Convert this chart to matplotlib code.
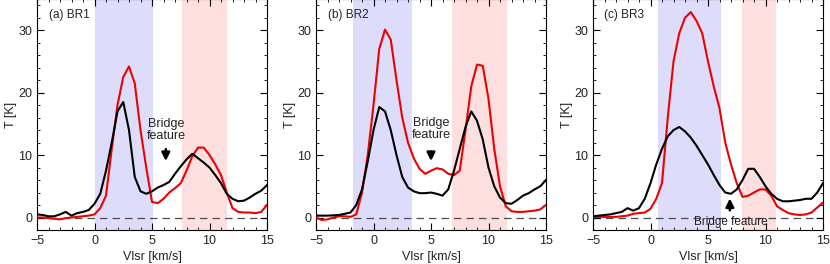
import numpy as np
import matplotlib
matplotlib.use("Agg")
import matplotlib.pyplot as plt
from matplotlib.ticker import MultipleLocator

plt.rcParams['font.family'] = ['Liberation Sans', 'DejaVu Sans']

vel = np.arange(-5, 15.01, 0.5)

# BR1
br1_black = [0.5, 0.4, 0.2, 0.2, 0.5, 0.9, 0.3, 0.7, 0.9, 1.2, 2.2, 3.8, 7.5, 12, 17, 18.5,
             14, 6.5, 4.2, 3.8, 4.2, 4.8, 5.2, 5.7, 7, 8.2, 9.3, 10.2, 9.5, 8.8, 8, 6.8,
             5.5, 3.8, 3.0, 2.6, 2.7, 3.2, 3.8, 4.3, 5.2]
br1_red = [0, 0, -0.1, -0.2, -0.3, -0.1, 0, 0.1, 0.2, 0.3, 0.5, 1.5, 3.5, 11, 18, 22.5,
           24.2, 21.5, 14, 8, 2.5, 2.3, 3, 4, 4.7, 5.5, 7.5, 9.8, 11.2, 11.2, 10, 8.5,
           6.8, 4, 1.5, 0.9, 0.8, 0.8, 0.7, 0.9, 2.0]
# BR2
br2_black = [0.3, 0.3, 0.3, 0.35, 0.4, 0.6, 0.8, 2, 4.5, 9, 14, 17.7, 17, 14, 10, 6.5,
             4.8, 4.2, 3.9, 3.9, 4.0, 3.8, 3.5, 4.5, 7.5, 11, 14.5, 17, 15.5, 12.5, 8, 5,
             3.2, 2.3, 2.2, 2.8, 3.5, 3.9, 4.5, 5, 6.0]
br2_red = [0, -0.4, -0.3, 0, 0.2, 0.2, 0.1, 0.5, 4, 10, 18, 27, 30.1, 28.5, 22, 16,
           12, 9.5, 7.8, 7.0, 7.5, 7.9, 7.7, 7.0, 6.8, 7.5, 14, 21, 24.5, 24.3, 19, 11,
           5, 1.8, 1, 0.9, 0.9, 1.0, 1.1, 1.3, 2.0]
# BR3
br3_black = [0.2, 0.3, 0.4, 0.5, 0.7, 0.9, 1.5, 1.1, 1.5, 3, 5.5, 8.5, 11, 13, 14, 14.5,
             13.8, 12.8, 11.5, 10, 8.5, 6.8, 5.2, 4.0, 3.8, 4.5, 6, 7.8, 7.8, 6.5, 5,
             3.8, 3.0, 2.6, 2.6, 2.7, 2.8, 3.0, 3.0, 4, 5.5]
br3_red = [0.1, 0.1, 0.1, 0.1, 0.1, 0.2, 0.3, 0.6, 0.7, 0.8, 1.4, 3, 5.5, 16, 25, 29.5,
           32, 32.9, 31.5, 29.5, 25, 21, 17.5, 12, 8.5, 5.5, 3.3, 3.5, 4.0, 4.5, 4.5,
           3.5, 1.8, 1.2, 0.7, 0.5, 0.4, 0.5, 0.8, 1.6, 2.4]

labels = ['(a) BR1', '(b) BR2', '(c) BR3']
blue_rng = [(0, 5.1), (-1.8, 3.35), (0.65, 6.1)]
red_rng = [(7.65, 11.55), (6.85, 11.65), (7.95, 10.95)]
blacks = [br1_black, br2_black, br3_black]
reds = [br1_red, br2_red, br3_red]

fig = plt.figure(figsize=(8.3, 2.64), dpi=100)
lefts = [37, 316, 593]
axes = []
for i in range(3):
    ax = fig.add_axes([lefts[i] / 830, 34 / 264, 230 / 830, 231 / 264])
    axes.append(ax)
    ax.axvspan(*blue_rng[i], color=(0.867, 0.867, 0.984), lw=0, zorder=0)
    ax.axvspan(*red_rng[i], color=(0.992, 0.875, 0.875), lw=0, zorder=0)
    ax.axhline(0, color='0.3', lw=0.9, ls=(0, (6, 4)), zorder=1)
    ax.plot(vel, reds[i], color='#ee0000', lw=1.5, zorder=3)
    ax.plot(vel, blacks[i], color='black', lw=1.5, zorder=4)
    ax.set_xlim(-5, 15)
    ax.set_ylim(-2, 35)
    ax.xaxis.set_major_locator(MultipleLocator(5))
    ax.xaxis.set_minor_locator(MultipleLocator(1))
    ax.yaxis.set_major_locator(MultipleLocator(10))
    ax.yaxis.set_minor_locator(MultipleLocator(2))
    ax.tick_params(which='both', direction='in', top=True, right=True, labelsize=9,
                   labelcolor='#222222')
    ax.tick_params(which='major', length=5, width=0.8)
    ax.tick_params(which='minor', length=2.5, width=0.6)
    ax.set_xlabel('Vlsr [km/s]', fontsize=9, labelpad=3, color='#222222')
    ax.set_ylabel('T [K]', fontsize=9, labelpad=1, color='#222222')
    ax.text(-4.0, 32.5, labels[i], fontsize=8.5, va='center', ha='left', color='#222222')

# bridge feature annotations
arrow = dict(arrowstyle='-|>', color='black', lw=1.8, mutation_scale=12)
axes[0].text(6.2, 14.0, 'Bridge\nfeature', fontsize=9, ha='center', va='center',
             linespacing=0.95, color='#222222')
axes[0].annotate('', xy=(6.2, 8.6), xytext=(6.2, 11.4), arrowprops=arrow)
axes[1].text(5.05, 14.2, 'Bridge\nfeature', fontsize=9, ha='center', va='center',
             linespacing=0.95, color='#222222')
axes[1].annotate('', xy=(5.0, 8.6), xytext=(5.0, 11.0), arrowprops=arrow)
axes[2].text(7.0, -0.7, 'Bridge feature', fontsize=8.5, ha='center', va='center',
             color='#222222')
axes[2].annotate('', xy=(6.9, 3.5), xytext=(6.9, 0.7), arrowprops=arrow)

fig.savefig('out.png', dpi=100)
